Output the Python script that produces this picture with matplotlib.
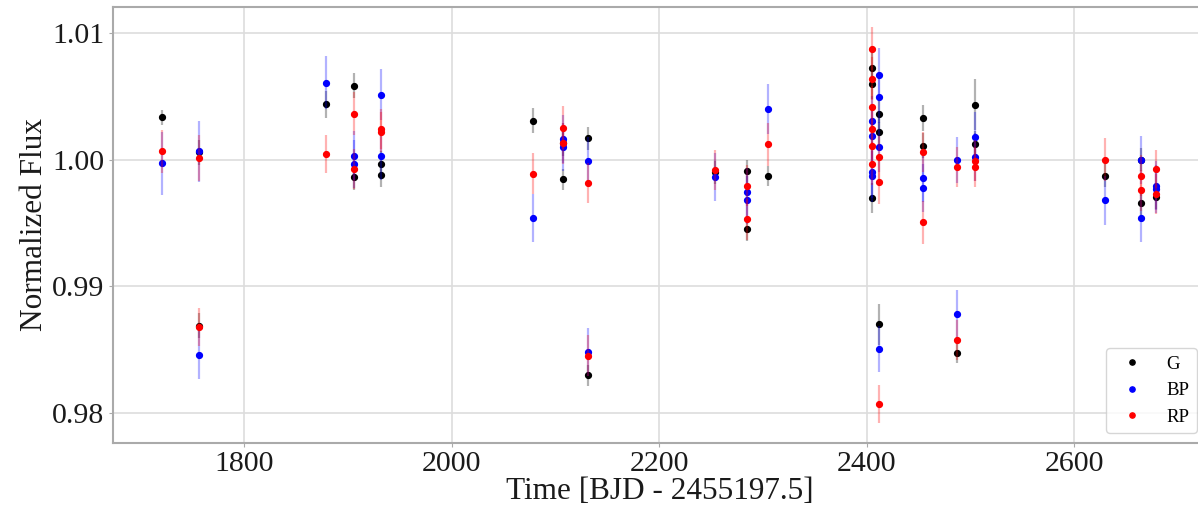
import numpy as np
import matplotlib
matplotlib.use("Agg")
import matplotlib.pyplot as plt

plt.rcParams["font.family"] = ["Liberation Serif", "DejaVu Serif"]

# ------------------------------------------------------------------ #
#  Gaia epoch photometry (time, normalized flux, 1-sigma error)
# ------------------------------------------------------------------ #
g_time = [1721, 1756, 1756, 1879, 1906, 1906, 1932, 1932, 2078, 2107,
          2107, 2131, 2131, 2254, 2285, 2285, 2305, 2405, 2405, 2405,
          2412, 2412, 2412, 2454, 2454, 2487, 2504, 2504, 2630, 2664,
          2664, 2679]
g_flux = [1.00336, 1.0006, 0.9869, 1.00437, 1.00586, 0.99863, 0.99968, 0.99884, 1.0031, 0.99845,
          1.0013, 1.0017, 0.98298, 0.9990, 0.99908, 0.9945, 0.99874, 1.00723, 1.0060, 0.9970,
          1.00363, 1.00218, 0.9870, 1.00331, 1.00113, 0.98474, 1.00436, 1.00126, 0.99876, 1.0000,
          0.99658, 0.99705]
g_err = [0.0006, 0.0010, 0.0010, 0.0011, 0.0010, 0.0010, 0.0010, 0.0010, 0.0010, 0.0008,
         0.0010, 0.0009, 0.0008, 0.0009, 0.0009, 0.0009, 0.0008, 0.0012, 0.0012, 0.0012,
         0.0012, 0.0012, 0.0016, 0.0010, 0.0010, 0.0008, 0.0020, 0.0010, 0.0009, 0.0009,
         0.0009, 0.0009]

bp_time = [1721, 1756, 1756, 1879, 1906, 1906, 1932, 1932, 2078, 2107,
           2107, 2131, 2131, 2254, 2285, 2285, 2305, 2405, 2405, 2405,
           2405, 2412, 2412, 2412, 2412, 2454, 2454, 2487, 2487, 2504,
           2504, 2630, 2664, 2664, 2679, 2679]
bp_flux = [0.99973, 1.00068, 0.98463, 1.00608, 1.00034, 0.99968, 1.00515, 1.00034, 0.99539, 1.00166,
           1.0010, 0.99987, 0.98481, 0.99863, 0.99744, 0.99684, 1.0040, 1.00305, 1.00192, 0.99902,
           0.9987, 1.00673, 1.00494, 1.0010, 0.98505, 0.99855, 0.99776, 1.0000, 0.98785, 1.00184,
           1.0002, 0.99679, 1.0000, 0.99542, 0.99797, 0.9977]
bp_err = [0.0025, 0.0024, 0.0019, 0.0021, 0.0019, 0.0019, 0.0020, 0.0019, 0.0019, 0.0019,
          0.0019, 0.0019, 0.0019, 0.0019, 0.0019, 0.0019, 0.0020, 0.0020, 0.0020, 0.0020,
          0.0020, 0.0021, 0.0020, 0.0020, 0.0018, 0.0019, 0.0019, 0.0018, 0.0019, 0.0019,
          0.0019, 0.0019, 0.0019, 0.0019, 0.0019, 0.0019]

rp_time = [1721, 1756, 1756, 1879, 1906, 1906, 1932, 1932, 2078, 2107,
           2107, 2131, 2131, 2254, 2285, 2285, 2305, 2405, 2405, 2405,
           2405, 2405, 2405, 2412, 2412, 2412, 2454, 2454, 2487, 2487,
           2504, 2504, 2630, 2664, 2664, 2679, 2679]
rp_flux = [1.00066, 1.00013, 0.98684, 1.00047, 1.00363, 0.99929, 1.00245, 1.0022, 0.9989, 1.00253,
           1.0013, 0.99818, 0.98455, 0.99921, 0.99797, 0.99529, 1.00123, 1.00876, 1.0064, 1.00415,
           1.00245, 1.00107, 0.99968, 1.0002, 0.99823, 0.98074, 1.0006, 0.99508, 0.99942, 0.98579,
           0.99994, 0.99942, 1.0000, 0.99876, 0.99758, 0.99929, 0.99732]
rp_err = [0.0017, 0.0018, 0.0015, 0.0015, 0.0017, 0.0016, 0.0016, 0.0016, 0.0016, 0.0017,
          0.0016, 0.0016, 0.0016, 0.0016, 0.0016, 0.0016, 0.0017, 0.0017, 0.0017, 0.0017,
          0.0017, 0.0017, 0.0017, 0.0017, 0.0017, 0.0015, 0.0016, 0.0017, 0.0016, 0.0016,
          0.0016, 0.0016, 0.0017, 0.0016, 0.0016, 0.0015, 0.0016]

BANDS = [
    ("G", g_time, g_flux, g_err, "k"),
    ("BP", bp_time, bp_flux, bp_err, "b"),
    ("RP", rp_time, rp_flux, rp_err, "r"),
]

fig, ax = plt.subplots(figsize=(11.98, 5.14), dpi=100)
# axes run slightly past the right edge of the canvas
fig.subplots_adjust(left=0.094, right=1.0067, top=0.986, bottom=0.139)

for name, t, f, e, c in BANDS:
    ax.errorbar(t, f, yerr=e, fmt="none", ecolor=c, elinewidth=1.6, alpha=0.3)
    ax.plot(t, f, "o", color=c, ms=4.2, label=name)

ax.set_xlim(1673, 2727)
ax.set_ylim(0.97768, 1.01205)
ax.set_xticks([1800, 2000, 2200, 2400, 2600])
ax.set_yticks([0.98, 0.99, 1.00, 1.01])
ax.set_yticklabels(["0.98", "0.99", "1.00", "1.01"])

ax.grid(color="#dddddd", linewidth=1.2)
ax.set_axisbelow(True)
for s in ax.spines.values():
    s.set_color("#aaaaaa")
    s.set_linewidth(1.5)
ax.tick_params(colors="#aaaaaa", labelcolor="#1a1a1a", labelsize=21.5, length=3, pad=3)

ax.set_xlabel("Time [BJD - 2455197.5]", fontsize=22.5, color="#1a1a1a", labelpad=0)
ax.set_ylabel("Normalized Flux", fontsize=22.5, color="#1a1a1a", labelpad=2)

ax.legend(loc="lower right", fontsize=13.5, markerscale=0.9, framealpha=0.8)

fig.savefig("out.png", dpi=100)
